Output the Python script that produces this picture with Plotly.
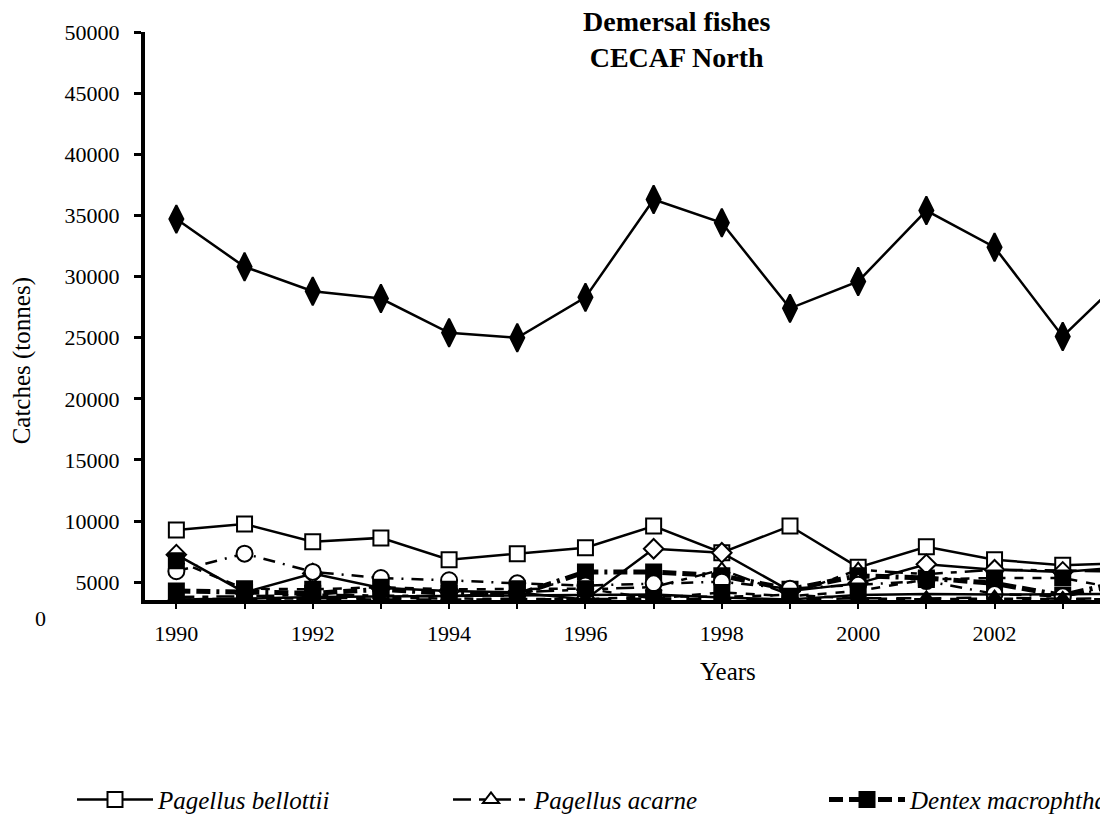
import plotly.graph_objects as go

years = list(range(1990, 2005))
year_labels = ["1990", "", "1992", "", "1994", "", "1996", "", "1998", "", "2000", "", "2002", "", "2004"]
y_ticks = list(range(5000, 50001, 5000))

# catches in tonnes
bellottii = [9270, 9760, 8310, 8630, 6850, 7340, 7820, 9600, 7420, 9600, 6220, 7900, 6850, 6400, 6590]
acarne = [3800, 3850, 3980, 3920, 3850, 4170, 4420, 4600, 6030, 3980, 6030, 5660, 6030, 5970, 5850]
dentex_mac = [4290, 4170, 4100, 4420, 4100, 3980, 5850, 5850, 5530, 4420, 5530, 5350, 4910, 3920, 5230]
sparidae = [34700, 30800, 28800, 28200, 25400, 25000, 28300, 36300, 34400, 27400, 29600, 35400, 32400, 25100, 30500]
erythrinus = [7260, 4170, 5720, 4540, 4290, 4170, 3600, 7740, 7420, 4290, 4910, 6470, 6030, 5850, 6280]
pagrus = [5900, 7340, 5850, 5350, 5160, 4910, 4730, 4910, 5040, 4480, 4790, 5100, 4050, 3850, 4790]
dentex_can = [6770, 4480, 4420, 4600, 4420, 4480, 4480, 3670, 4170, 3850, 4290, 5230, 5350, 5350, 4290]
dentex_gib = [3610, 3670, 3670, 3730, 3670, 3670, 3610, 3850, 3800, 3980, 3670, 3610, 3670, 3610, 3610]
epinephelus = [3600, 3650, 3800, 3850, 3900, 3900, 3950, 4000, 3750, 3600, 3950, 4050, 4000, 4050, 4050]
pomadasys = [3580, 3600, 3650, 3580, 3580, 3580, 3620, 3650, 3600, 3580, 3700, 3680, 3750, 3650, 3700]

FONT = "Liberation Serif"

# name, values, dash, width, symbol, size, fill
series = [
    ("<i>Pagellus bellottii</i>", bellottii, "solid", 2.5, "square", 15, "white"),
    ("<i>Pagellus acarne</i>", acarne, "18px,8px,6px,8px", 2.5, "triangle-up", 14, "white"),
    ("<i>Dentex macrophthalmus</i>", dentex_mac, "14px,6px,14px,6px,3px,6px", 5, "square", 15, "black"),
    ("<i>Pagellus erythrinus</i>", erythrinus, "solid", 2.5, "diamond", 15, "white"),
    ("<i>Pagrus</i> spp.", pagrus, "12px,8px,2px,8px", 2.5, "circle", 16, "white"),
    ("<i>Dentex canariensis</i>", dentex_can, "dash", 2.5, "square", 15, "black"),
    ("<i>Dentex gibbosus</i>", dentex_gib, "dash", 2.5, None, 0, "black"),
    ("<i>Epinephelus</i> spp.", epinephelus, "solid", 2.5, None, 0, "black"),
    ("<i>Pomadasys</i> spp.", pomadasys, "longdash", 2.5, "triangle-up", 14, "black"),
    ("Sparidae", sparidae, "solid", 2.5, "diamond-tall", 20, "black"),
]

fig = go.Figure()
for name, vals, dash, width, sym, size, fill in series:
    fig.add_trace(go.Scatter(
        x=years, y=vals, name=name,
        mode="lines+markers" if sym else "lines",
        line=dict(color="black", width=width, dash=dash),
        marker=dict(symbol=sym or "circle", size=size, color=fill,
                    line=dict(color="black", width=2)),
    ))

fig.add_annotation(text="<b>Demersal fishes<br>CECAF North</b>", xref="paper", yref="paper",
                   x=0.5216, y=0.986, xanchor="center", yanchor="middle", showarrow=False,
                   font=dict(family=FONT, size=28, color="black"))
# axis titles and the stray zero label sit where the original chart put them
fig.add_annotation(text="Catches (tonnes)", xref="paper", yref="paper", textangle=-90,
                   x=-0.1206, y=0.4219, xanchor="center", yanchor="middle", showarrow=False,
                   font=dict(family=FONT, size=25, color="black"))
fig.add_annotation(text="Years", xref="paper", yref="paper",
                   x=0.5716, y=-0.125, xanchor="center", yanchor="middle", showarrow=False,
                   font=dict(family=FONT, size=25, color="black"))
fig.add_annotation(text="0", xref="paper", yref="paper",
                   x=-0.1029, y=-0.033, xanchor="center", yanchor="middle", showarrow=False,
                   font=dict(family=FONT, size=22, color="black"))

fig.update_layout(
    width=1192, height=1000,
    margin=dict(l=137, r=35, t=16, b=408),
    plot_bgcolor="white", paper_bgcolor="white",
    font=dict(family=FONT, size=22, color="black"),
    xaxis=dict(range=[1989.54, 2004.5], tickvals=years, ticktext=year_labels,
               showline=True, linecolor="black", linewidth=4, ticks="outside", ticklen=5,
               tickwidth=2, tickcolor="black", showgrid=False, zeroline=False,
               ticklabelstandoff=6, tickfont=dict(size=22)),
    yaxis=dict(range=[3550, 50000], tickvals=y_ticks, tickformat="d",
               showline=True, linecolor="black", linewidth=4, ticks="outside", ticklen=7,
               tickwidth=3, tickcolor="black", showgrid=False, zeroline=False,
               ticklabelstandoff=10, tickfont=dict(size=22)),
    legend=dict(orientation="h", x=-0.0353, xanchor="left", y=-0.311, yanchor="top",
                entrywidth=285, entrywidthmode="pixels", itemwidth=76,
                font=dict(family=FONT, size=25)),
)

fig.write_html("out.html")
